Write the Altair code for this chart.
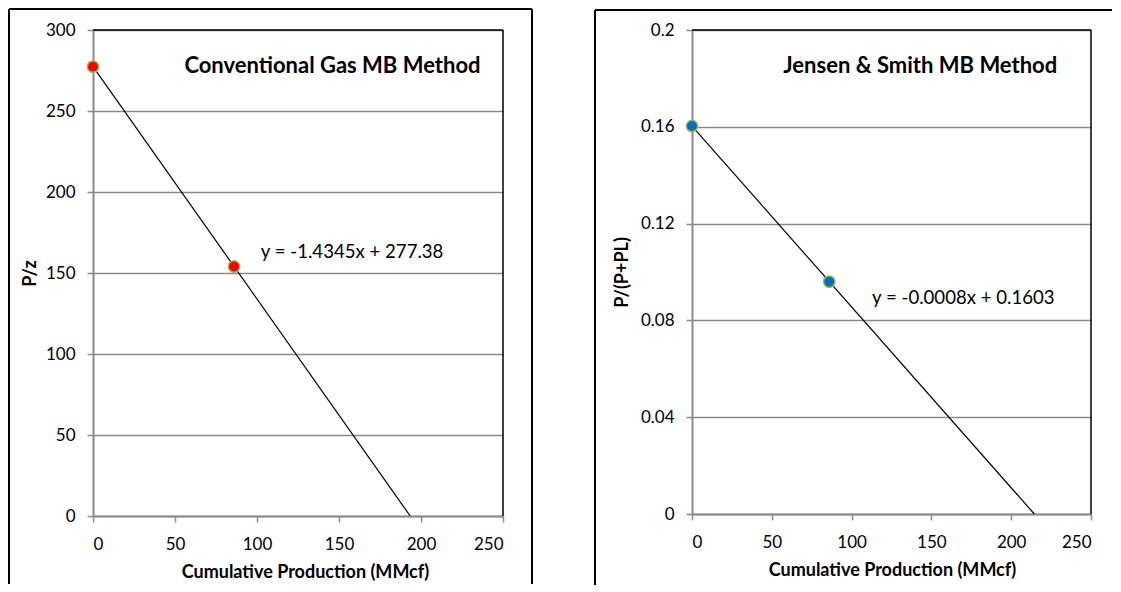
import altair as alt
import pandas as pd

# ---------------- data ----------------
x_ticks = [0, 50, 100, 150, 200, 250]

# Left panel: conventional gas material balance
left_cum_prod = [0, 86]
left_p_over_z = [277.38, 154]
left_trend_x = [0, 193.4]
left_trend_y = [277.38, 0]
left_y_ticks = [0, 50, 100, 150, 200, 250, 300]

# Right panel: Jensen & Smith material balance
right_cum_prod = [0, 86]
right_p_ratio = [0.1603, 0.096]
right_trend_x = [0, 214.5]
right_trend_y = [0.1603, 0]
right_y_ticks = [0, 0.04, 0.08, 0.12, 0.16, 0.2]

titles = ["Conventional Gas MB Method", "Jensen & Smith MB Method"]
equations = ["y = -1.4345x + 277.38", "y = -0.0008x + 0.1603"]
y_titles = ["P/z", "P/(P+PL)"]
x_title = "Cumulative Production (MMcf)"

FONT = "Lato"
GRAY = "#8a8a8a"


def rule(x, x2, y, y2, w=2):
    one = pd.DataFrame({"k": [0]})
    enc = dict(x=alt.value(x), y=alt.value(y))
    if x2 is not None:
        enc["x2"] = alt.value(x2)
    if y2 is not None:
        enc["y2"] = alt.value(y2)
    return alt.Chart(one).mark_rule(color="black", strokeWidth=w).encode(**enc)


def panel(px, py, tx, ty, ymax, yticks, yfmt, title, title_pos, eq, eq_pos,
          ytitle, fill, W, H, frame_rules, ytitle_pad, xtitle_x):
    xs = alt.Scale(domain=[0, 250], nice=False, zero=False)
    ys = alt.Scale(domain=[0, ymax], nice=False, zero=False)
    X = alt.X("x:Q", scale=xs, axis=alt.Axis(
        values=x_ticks, title=x_title, grid=False, format="d",
        domainColor=GRAY, domainWidth=2, tickColor=GRAY, tickWidth=1.5, tickSize=6,
        labelFont=FONT, labelFontSize=17, labelColor="black", labelPadding=14,
        titleFont=FONT, titleFontSize=18, titleFontWeight="bold", titleColor="black",
        titlePadding=11, titleX=xtitle_x))
    Y = alt.Y("y:Q", scale=ys, axis=alt.Axis(
        values=yticks, title=ytitle, format=yfmt, grid=True,
        gridColor=GRAY, gridWidth=1.5,
        domainColor=GRAY, domainWidth=2, tickColor=GRAY, tickWidth=1.5, tickSize=6,
        labelFont=FONT, labelFontSize=17, labelColor="black", labelPadding=12,
        titleFont=FONT, titleFontSize=18, titleFontWeight="bold", titleColor="black",
        titlePadding=ytitle_pad))

    top_rule = rule(0, W, 0, None, 1.5)
    right_rule = rule(W, None, 0, H, 1.5)
    frames = [rule(*r) for r in frame_rules]

    trend = alt.Chart(pd.DataFrame({"x": tx, "y": ty})).mark_line(
        color="black", strokeWidth=1.2).encode(x=X, y=Y)
    pts = alt.Chart(pd.DataFrame({"x": px, "y": py})).mark_point(
        filled=True, shape="circle", size=130, fill=fill, stroke="#9bbb59",
        strokeWidth=1.5, opacity=1).encode(x=X, y=Y)
    ttl = alt.Chart(pd.DataFrame({"x": [title_pos[0]], "y": [title_pos[1]], "t": [title]})).mark_text(
        font=FONT, fontSize=22, fontWeight="bold", color="black", align="center",
        baseline="middle").encode(x=X, y=Y, text="t:N")
    eqn = alt.Chart(pd.DataFrame({"x": [eq_pos[0]], "y": [eq_pos[1]], "t": [eq]})).mark_text(
        font=FONT, fontSize=18.6, color="black", align="center",
        baseline="middle").encode(x=X, y=Y, text="t:N")

    return alt.layer(*frames, trend, pts, top_rule, right_rule, ttl, eqn).properties(
        width=W, height=H)


# outer frame edges (left, top, right) of each panel box, relative to its plot area
left_frame = [(-84, None, -21, 554), (-84, 439, -21, None), (439, None, -21, 554)]
right_frame = [(-97, None, -20, 555), (-97, 420, -20, None)]

left = panel(left_cum_prod, left_p_over_z, left_trend_x, left_trend_y, 300,
             left_y_ticks, "d", titles[0], (146, 278), equations[0], (158, 163),
             y_titles[0], "#ff0000", 410, 486, left_frame, 6, 212)
right = panel(right_cum_prod, right_p_ratio, right_trend_x, right_trend_y, 0.2,
              right_y_ticks, "~g", titles[1], (143, 0.185), equations[1], (170, 0.0893),
              y_titles[1], "#0070c0", 399, 484, right_frame, 9, 200)

chart = alt.hconcat(left, right, spacing=61).properties(
    padding=0, background="white"
).configure_view(stroke=None)

chart.save("out.html", embed_options={"renderer": "svg", "actions": False})
